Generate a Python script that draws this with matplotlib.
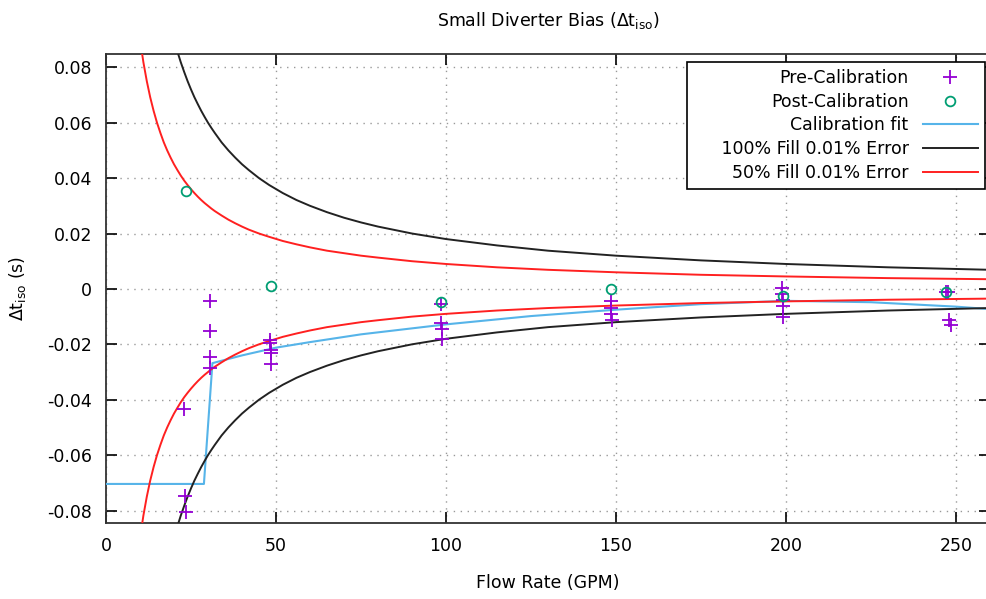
import numpy as np
import matplotlib
matplotlib.use("Agg")
import matplotlib.pyplot as plt

plt.rcParams['font.family'] = ['DejaVu Sans']
plt.rcParams['mathtext.default'] = 'regular'

# Pre-calibration bias points (flow rate GPM, dt_iso s)
pre_x = [23.0, 23.2, 23.4,
         30.5, 30.5, 30.5, 30.6,
         48.2, 48.3, 48.4, 48.5, 48.6,
         98.5, 98.6, 98.7, 98.8,
         148.5, 148.6, 148.6, 148.7,
         198.8, 198.9, 199.0, 199.0, 199.1,
         247.0, 247.5, 248.0, 248.5]
pre_y = [-0.0435, -0.0746, -0.0807,
         -0.0043, -0.0152, -0.0245, -0.0286,
         -0.0186, -0.0197, -0.0219, -0.0233, -0.0271,
         -0.0055, -0.0122, -0.0146, -0.0179,
         -0.0043, -0.0068, -0.0090, -0.0113,
         0.0005, -0.0020, -0.0040, -0.0061, -0.0102,
         -0.0012, -0.0010, -0.0112, -0.0130]

# Post-calibration bias points
post_x = [23.4, 48.4, 98.6, 148.6, 199.0, 247.0]
post_y = [0.0353, 0.0012, -0.0048, 0.0001, -0.0024, -0.0010]

# Calibration fit
fit_x = [0, 28.8, 31.3, 40, 50, 60, 75, 100, 125, 150, 175, 200, 225, 250, 260]
fit_y = [-0.0704, -0.0704, -0.0268, -0.0240, -0.0212, -0.0192, -0.0164, -0.0128,
         -0.0098, -0.0075, -0.0055, -0.0043, -0.0048, -0.0064, -0.0073]

# error bands
err_x = [10, 11, 12, 13, 14, 15, 16, 17, 18, 19, 20, 21, 22, 23, 24, 25, 26, 27,
         28, 29, 30, 31, 32, 34, 36, 38, 40, 42, 45, 48, 52, 56, 60, 65, 70, 75,
         80, 90, 100, 115, 130, 150, 175, 200, 230, 260]
err_100 = [0.1800, 0.1636, 0.1500, 0.1385, 0.1286, 0.1200, 0.1125, 0.1059, 0.1000,
           0.0947, 0.0900, 0.0857, 0.0818, 0.0783, 0.0750, 0.0720, 0.0692, 0.0667,
           0.0643, 0.0621, 0.0600, 0.0581, 0.0563, 0.0529, 0.0500, 0.0474, 0.0450,
           0.0429, 0.0400, 0.0375, 0.0346, 0.0321, 0.0300, 0.0277, 0.0257, 0.0240,
           0.0225, 0.0200, 0.0180, 0.0157, 0.0138, 0.0120, 0.0103, 0.0090, 0.0078,
           0.0069]
err_50 = [0.0900, 0.0818, 0.0750, 0.0692, 0.0643, 0.0600, 0.0563, 0.0529, 0.0500,
          0.0474, 0.0450, 0.0429, 0.0409, 0.0391, 0.0375, 0.0360, 0.0346, 0.0333,
          0.0321, 0.0310, 0.0300, 0.0290, 0.0281, 0.0265, 0.0250, 0.0237, 0.0225,
          0.0214, 0.0200, 0.0188, 0.0173, 0.0161, 0.0150, 0.0138, 0.0129, 0.0120,
          0.0113, 0.0100, 0.0090, 0.0078, 0.0069, 0.0060, 0.0051, 0.0045, 0.0039,
          0.0035]

x_ticks = [0, 50, 100, 150, 200, 250]
y_ticks = [-0.08, -0.06, -0.04, -0.02, 0, 0.02, 0.04, 0.06, 0.08]
y_labels = ['-0.08', '-0.06', '-0.04', '-0.02', '0', '0.02', '0.04', '0.06', '0.08']

fig = plt.figure(figsize=(9.86, 5.99), dpi=100)
ax = fig.add_axes([106 / 986, 76 / 599, 884 / 986, 469 / 599])

ax.plot(pre_x, pre_y, linestyle='none', marker='+', color='#9400d3',
        markersize=10, markeredgewidth=1.3, label='Pre-Calibration', zorder=5)
ax.plot(post_x, post_y, linestyle='none', marker='o', markerfacecolor='none',
        markeredgecolor='#009e73', markersize=7, markeredgewidth=1.3,
        label='Post-Calibration', zorder=5)
ax.plot(fit_x, fit_y, color='#56b4e9', linewidth=1.5, label='Calibration fit', zorder=3)
ax.plot(err_x, err_100, color='#222222', linewidth=1.4,
        label='     100% Fill 0.01% Error', zorder=3)
ax.plot(err_x, -np.array(err_100), color='#222222', linewidth=1.4, zorder=3)
ax.plot(err_x, err_50, color='#ff2020', linewidth=1.4, label='50% Fill 0.01% Error', zorder=3)
ax.plot(err_x, -np.array(err_50), color='#ff2020', linewidth=1.4, zorder=3)

ax.set_xlim(0, 260)
ax.set_ylim(-0.0845, 0.0848)
ax.set_xticks(x_ticks)
ax.set_yticks(y_ticks)
ax.set_yticklabels(y_labels)
ax.tick_params(direction='in', length=8, width=1.2, labelsize=12.5,
               top=True, right=True, pad=10)
ax.grid(True, linestyle=(0, (1, 4)), color='#999999', linewidth=1.0)
for s in ax.spines.values():
    s.set_linewidth(1.3)
    s.set_color('#333333')

ax.set_xlabel('Flow Rate (GPM)', fontsize=12.5, labelpad=14)
ax.set_ylabel(r'$\Delta$t$_{iso}$ (s)', fontsize=12.5, labelpad=14)
ax.set_title(r'Small Diverter Bias ($\Delta$t$_{iso}$)', fontsize=12.5, pad=20)

leg = ax.legend(loc='upper right', bbox_to_anchor=(985 / 986, 1 - 62 / 599),
                bbox_transform=fig.transFigure, markerfirst=False, fontsize=12.5,
                fancybox=False, framealpha=1, edgecolor='black', handlelength=3.2,
                borderaxespad=0, labelspacing=0.33, borderpad=0.4)
leg.get_frame().set_linewidth(1.2)

fig.savefig('out.png', dpi=100)
